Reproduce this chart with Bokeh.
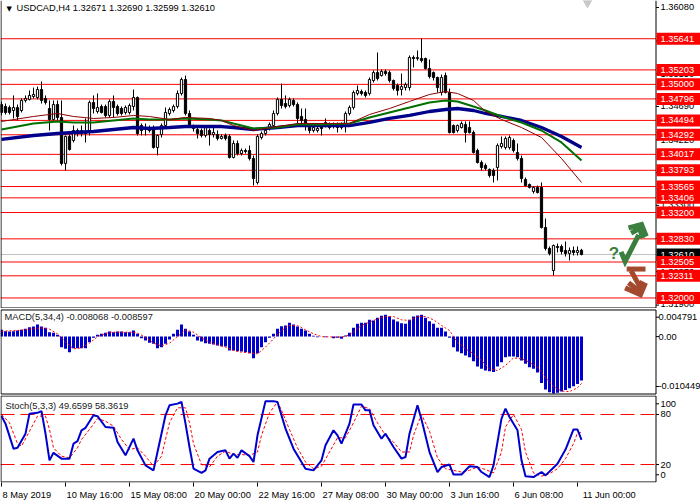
from bokeh.plotting import figure
from bokeh.layouts import column
from bokeh.models import Range1d, FixedTicker, Label
from bokeh.core.properties import value
from bokeh.embed import file_html
from bokeh.resources import INLINE

# ---------------- data ----------------
title_text = "USDCAD,H4  1.32671 1.32690 1.32599 1.32610"
macd_text = "MACD(5,34,4) -0.008068 -0.008597"
stoch_text = "Stoch(5,3,3) 49.6599 58.3619"

opens = [1.34717,1.34689,1.34675,1.34633,1.34675,1.34633,1.34774,1.34788,1.34830,1.34816,
1.34928,1.34802,1.34661,1.34507,1.34717,1.34535,1.33889,1.34268,1.34212,1.34352,
1.34310,1.34338,1.34338,1.34746,1.34619,1.34689,1.34689,1.34563,1.34760,1.34689,
1.34661,1.34605,1.34605,1.34689,1.34816,1.34422,1.34394,1.34394,1.34394,1.34113,
1.34296,1.34422,1.34591,1.34633,1.34689,1.34872,1.35068,1.34591,1.34408,1.34366,
1.34352,1.34282,1.34352,1.34296,1.34296,1.34240,1.34282,1.34268,1.33973,1.34170,
1.34029,1.34071,1.34071,1.33959,1.33622,1.34254,1.34310,1.34380,1.34422,1.34591,
1.34788,1.34731,1.34703,1.34774,1.34717,1.34549,1.34507,1.34422,1.34352,1.34352,
1.34422,1.34422,1.34436,1.34408,1.34436,1.34394,1.34422,1.34591,1.34675,1.34872,
1.34900,1.34886,1.34872,1.35054,1.35166,1.35124,1.35181,1.35166,1.35054,1.34984,
1.34928,1.34955,1.34955,1.35377,1.35363,1.35363,1.35363,1.35223,1.35166,1.35096,
1.34886,1.35124,1.34886,1.34422,1.34352,1.34394,1.34436,1.34394,1.34324,1.34071,
1.33903,1.33861,1.33805,1.33791,1.33833,1.34127,1.34113,1.34113,1.34212,1.34043,
1.33959,1.33664,1.33594,1.33496,1.33552,1.33552,1.32990,1.32695,1.32386,1.32723,
1.32723,1.32667,1.32625,1.32667,1.32639,1.32671]
highs = [1.34760,1.34731,1.34703,1.34844,1.34717,1.34802,1.34844,1.34914,1.34955,1.34969,
1.35040,1.34844,1.34774,1.34774,1.34774,1.34774,1.34282,1.34296,1.34422,1.34380,
1.34422,1.34521,1.34774,1.34844,1.34872,1.34717,1.34717,1.34788,1.34844,1.34717,
1.34689,1.34703,1.34731,1.34928,1.34830,1.34450,1.34450,1.34422,1.34422,1.34296,
1.34450,1.34675,1.34675,1.34717,1.34914,1.35096,1.35124,1.34633,1.34436,1.34394,
1.34380,1.34422,1.34380,1.34394,1.34352,1.34296,1.34310,1.34296,1.34212,1.34212,
1.34099,1.34099,1.34141,1.34001,1.34296,1.34338,1.34380,1.34465,1.34633,1.34816,
1.35011,1.34844,1.34816,1.34802,1.34746,1.34661,1.34661,1.34450,1.34422,1.34408,
1.34450,1.34521,1.34465,1.34465,1.34465,1.34465,1.34619,1.34703,1.34914,1.34984,
1.34928,1.34914,1.35096,1.35195,1.35448,1.35209,1.35209,1.35195,1.35068,1.35011,
1.35152,1.35026,1.35406,1.35406,1.35476,1.35644,1.35377,1.35349,1.35181,1.35110,
1.35138,1.35166,1.34941,1.34436,1.34436,1.34479,1.34479,1.34479,1.34352,1.34099,
1.33931,1.33889,1.33819,1.33819,1.34170,1.34268,1.34268,1.34282,1.34240,1.34170,
1.34001,1.33692,1.33608,1.33566,1.33580,1.33622,1.33116,1.32723,1.32751,1.32765,
1.32751,1.32793,1.32709,1.32723,1.32723,1.32690]
lows = [1.34563,1.34577,1.34577,1.34521,1.34493,1.34605,1.34746,1.34774,1.34802,1.34788,
1.34731,1.34717,1.34352,1.34493,1.34493,1.33861,1.33791,1.34071,1.34184,1.34268,
1.34268,1.34184,1.34282,1.34591,1.34591,1.34591,1.34535,1.34535,1.34535,1.34563,
1.34563,1.34577,1.34577,1.34633,1.34282,1.34282,1.34282,1.34324,1.34099,1.34001,
1.34254,1.34394,1.34563,1.34605,1.34661,1.34844,1.34563,1.34394,1.34338,1.34240,
1.34254,1.34254,1.34141,1.34254,1.34212,1.34226,1.34212,1.33959,1.33959,1.34001,
1.34001,1.34029,1.33931,1.33580,1.33594,1.34226,1.34282,1.34352,1.34394,1.34563,
1.34661,1.34661,1.34675,1.34689,1.34450,1.34422,1.34352,1.34310,1.34324,1.34324,
1.34282,1.34394,1.34366,1.34380,1.34324,1.34366,1.34324,1.34563,1.34647,1.34844,
1.34844,1.34816,1.34844,1.35026,1.35054,1.35110,1.35124,1.35026,1.34914,1.34844,
1.34844,1.34914,1.34914,1.35237,1.35335,1.35307,1.35209,1.35082,1.35054,1.34886,
1.34844,1.34872,1.34310,1.34310,1.34324,1.34380,1.34184,1.34310,1.34029,1.33889,
1.33791,1.33791,1.33692,1.33622,1.33650,1.34099,1.34085,1.34085,1.34043,1.33931,
1.33622,1.33566,1.33538,1.33467,1.33467,1.32976,1.32667,1.32597,1.32316,1.32639,
1.32611,1.32582,1.32526,1.32597,1.32597,1.32599]
closes = [1.34605,1.34605,1.34605,1.34675,1.34549,1.34774,1.34802,1.34844,1.34858,1.34928,
1.34774,1.34746,1.34507,1.34717,1.34535,1.33889,1.34268,1.34085,1.34352,1.34310,
1.34352,1.34310,1.34746,1.34661,1.34675,1.34605,1.34563,1.34760,1.34675,1.34591,
1.34591,1.34675,1.34703,1.34816,1.34310,1.34352,1.34380,1.34352,1.34113,1.34282,
1.34422,1.34605,1.34647,1.34689,1.34872,1.35068,1.34591,1.34422,1.34380,1.34310,
1.34282,1.34394,1.34296,1.34324,1.34240,1.34268,1.34240,1.33973,1.34170,1.34029,
1.34071,1.34057,1.33959,1.33678,1.34268,1.34310,1.34352,1.34436,1.34591,1.34788,
1.34703,1.34689,1.34788,1.34717,1.34521,1.34493,1.34450,1.34352,1.34394,1.34380,
1.34380,1.34465,1.34394,1.34436,1.34394,1.34436,1.34591,1.34675,1.34886,1.34914,
1.34872,1.34844,1.35068,1.35166,1.35082,1.35181,1.35152,1.35054,1.34941,1.34914,
1.34969,1.34998,1.35377,1.35363,1.35377,1.35335,1.35223,1.35110,1.35096,1.34955,
1.35096,1.34886,1.34324,1.34324,1.34422,1.34450,1.34324,1.34324,1.34043,1.33903,
1.33833,1.33819,1.33720,1.33720,1.34141,1.34170,1.34240,1.34254,1.34071,1.33959,
1.33678,1.33580,1.33552,1.33552,1.33481,1.32990,1.32695,1.32625,1.32737,1.32709,
1.32653,1.32625,1.32667,1.32639,1.32667,1.32610]

# moving averages, read at selected bars
ma_bars = [0,8,14,18,23,28,33,37,42,46,52,55,58,63,69,74,80,87,92,97,102,107,111,114,118,121,125,130,135,140,145]
ma_slow = [1.34226,1.34282,1.34310,1.34324,1.34338,1.34366,1.34394,1.34380,1.34394,1.34408,1.34408,1.34408,1.34394,1.34366,1.34394,1.34422,1.34422,1.34422,1.34465,1.34521,1.34563,1.34619,1.34647,1.34661,1.34633,1.34591,1.34549,1.34493,1.34394,1.34268,1.34113]
ma_mid = [1.34366,1.34450,1.34479,1.34465,1.34465,1.34493,1.34521,1.34507,1.34507,1.34521,1.34507,1.34493,1.34450,1.34380,1.34394,1.34436,1.34436,1.34450,1.34535,1.34605,1.34675,1.34746,1.34774,1.34760,1.34689,1.34633,1.34549,1.34465,1.34352,1.34184,1.33931]
ma_fast = [1.34479,1.34549,1.34591,1.34549,1.34521,1.34535,1.34563,1.34549,1.34507,1.34535,1.34521,1.34493,1.34422,1.34352,1.34408,1.34450,1.34450,1.34450,1.34577,1.34661,1.34760,1.34858,1.34900,1.34872,1.34774,1.34619,1.34507,1.34394,1.34254,1.33959,1.33622]

level_prices = [1.35641,1.35203,1.35000,1.34796,1.34494,1.34292,1.34017,1.33793,1.33565,1.33406,1.33200,1.32830,1.32505,1.32311,1.32000]
current_price = 1.32610
price_ticks = [1.36080,1.35610,1.35150,1.34690,1.34220,1.33760,1.33300,1.32840,1.32370,1.31900]

macd_hist = [0.00124,0.00100,0.00094,0.00100,0.00112,0.00124,0.00143,0.00173,0.00185,0.00222,
0.00185,0.00161,0.00081,0.00069,0.00032,-0.00194,-0.00225,-0.00286,-0.00212,-0.00212,
-0.00212,-0.00212,-0.00102,-0.00023,0.00032,0.00051,0.00069,0.00094,0.00081,0.00094,
0.00094,0.00081,0.00081,0.00112,0.00051,-0.00029,-0.00072,-0.00114,-0.00133,-0.00212,
-0.00194,-0.00133,-0.00053,0.00051,0.00124,0.00222,0.00143,0.00094,0.00032,-0.00072,
-0.00090,-0.00121,-0.00133,-0.00145,-0.00163,-0.00176,-0.00182,-0.00255,-0.00255,-0.00267,
-0.00274,-0.00286,-0.00304,-0.00396,-0.00304,-0.00194,-0.00102,-0.00023,0.00051,0.00143,
0.00192,0.00204,0.00253,0.00222,0.00185,0.00143,0.00112,0.00051,0.00014,-0.00010,
0.00002,-0.00010,0.00002,-0.00029,-0.00023,-0.00041,0.00020,0.00069,0.00161,0.00234,
0.00253,0.00253,0.00308,0.00296,0.00345,0.00381,0.00400,0.00369,0.00314,0.00277,
0.00247,0.00234,0.00308,0.00369,0.00387,0.00400,0.00345,0.00283,0.00234,0.00161,
0.00161,0.00094,-0.00023,-0.00194,-0.00274,-0.00304,-0.00347,-0.00378,-0.00451,-0.00549,
-0.00592,-0.00622,-0.00635,-0.00650,-0.00549,-0.00469,-0.00378,-0.00365,-0.00365,-0.00378,
-0.00439,-0.00500,-0.00561,-0.00592,-0.00660,-0.00850,-0.00970,-0.01020,-0.01045,-0.01030,
-0.01010,-0.00980,-0.00950,-0.00910,-0.00870,-0.00807]
macd_sig_bars = [0,4,8,10,12,14,16,18,20,22,24,27,30,33,34,36,38,40,42,44,46,48,50,52,54,56,58,60,62,64,66,68,70,72,74,76,78,80,84,86,88,90,92,94,96,98,100,102,104,106,108,110,112,114,116,118,120,122,124,126,128,130,132,134,136,138,140,142,144,145]
macd_signal = [0.00100,0.00112,0.00143,0.00161,0.00136,0.00051,-0.00102,-0.00225,-0.00206,-0.00121,
0.0,0.00081,0.00081,0.00081,0.00063,-0.00010,-0.00121,-0.00170,-0.00121,0.0,
0.00124,0.00081,-0.00023,-0.00102,-0.00151,-0.00194,-0.00255,-0.00286,-0.00298,-0.00316,
-0.00194,-0.00041,0.00112,0.00204,0.00204,0.00124,0.00051,0.0,-0.0001,0.0,
0.00081,0.00204,0.00265,0.00326,0.00369,0.00369,0.00308,0.00296,0.00369,0.00369,
0.00308,0.00204,0.00112,-0.00102,-0.00225,-0.00316,-0.00439,-0.00592,-0.00622,-0.00531,
-0.00391,-0.00408,-0.00469,-0.00561,-0.0075,-0.0092,-0.0100,-0.0101,-0.0094,-0.008597]
macd_tick_values = [0.00356, 0.0, -0.00916]
macd_tick_labels = ["0.004791", "0.00", "-0.010449"]

stoch_bars = [0,1,3,4,6,7,9,10,11,12,13,15,17,18,19,20,21,23,24,26,28,29,31,33,34,36,38,39,41,42,
44,45,46,47,48,50,51,52,54,56,57,58,59,60,62,63,64,66,68,69,71,73,76,78,80,81,83,84,85,87,
88,90,91,92,93,95,96,98,100,101,102,104,105,107,109,110,112,113,115,117,119,120,122,123,125,126,127,129,130,131,
133,135,136,139,141,143,144,145]
stoch_main = [78,69,39,40,57,81,82,84,57,25,34,27,27,45,48,61,64,79,78,65,64,47,31,51,37,19,13,35,79,91,
93,95,69,41,15,10,13,27,35,37,27,33,28,37,30,23,55,96,96,95,63,39,15,13,25,43,61,55,45,69,
92,92,85,85,67,51,57,41,27,29,57,91,74,35,11,17,20,8,8,18,17,11,5,19,75,87,77,61,25,6,
5,11,7,21,38,62,62,49.66]
stoch_sig_bars = [0,2,4,5,7,9,11,12,13,15,17,19,20,22,24,26,28,30,32,34,36,38,40,42,44,46,47,48,50,52,
54,56,58,60,62,64,65,67,69,70,72,74,76,78,80,82,84,86,88,90,92,94,96,98,100,102,103,105,107,109,
111,113,115,117,119,121,123,125,126,128,130,131,133,135,137,139,141,143,144,145]
stoch_signal = [80,70,45,42,60,78,78,62,40,30,28,40,50,62,75,72,66,50,38,40,30,18,30,70,88,88,70,45,20,17,
30,36,32,32,31,35,55,82,95,85,62,40,23,15,18,35,52,52,70,90,87,70,55,47,35,35,55,80,60,28,
15,13,11,13,17,14,10,35,65,80,62,35,10,6,9,15,27,45,58,58.36]
stoch_levels = [20, 80]
stoch_tick_values = [7.7, 20, 80, 92.8]
stoch_tick_labels = ["0", "20", "80", "100"]

time_ticks = [0,16,32,48,64,80,96,112,128,144]
time_labels = ["8 May 2019","10 May 16:00","15 May 08:00","20 May 00:00","22 May 16:00",
               "27 May 08:00","30 May 00:00","3 Jun 16:00","6 Jun 08:00","11 Jun 00:00"]

# ---------------- layout / style ----------------
FONT = "Liberation Sans"
FS = "9.3px"
W = 700
X0, X1 = -0.25, 174.75       # bar units across the full width
AX = 163.625                 # price-scale separator (bar units)
LEFT = -0.125
xr = Range1d(X0, X1)
bars = list(range(len(opens)))


def make_fig(fh, ylo, yhi, xaxis=False, bottom=0):
    p = figure(frame_width=W, frame_height=fh, x_range=xr, y_range=Range1d(ylo, yhi),
               y_axis_location=None, x_axis_location="below" if xaxis else None,
               toolbar_location=None, output_backend="svg",
               min_border_left=0, min_border_right=0, min_border_top=0, min_border_bottom=bottom)
    p.grid.visible = False
    p.outline_line_color = None
    p.background_fill_color = "white"
    p.border_fill_color = "white"
    return p


def frame_lines(p, top, bot):
    xs0, xs1, ys = [], [], []
    if top is not None:
        xs0.append(LEFT); xs1.append(AX); ys.append(top)
    xs0.append(LEFT); xs1.append(AX); ys.append(bot)
    p.segment(x0=xs0, x1=xs1, y0=ys, y1=ys, line_color="black", line_width=1)
    ytop = top if top is not None else p.y_range.end
    p.segment(x0=[LEFT, AX], x1=[LEFT, AX], y0=[ytop, ytop], y1=[bot, bot], line_color="black", line_width=1)


def scale_labels(p, vals, labels, xoff=4.5, nudge=None):
    n = len(vals)
    p.segment(x0=[AX] * n, x1=[AX + 0.75] * n, y0=vals, y1=vals, line_color="black")
    ys = vals if nudge is None else [v + d for v, d in zip(vals, nudge)]
    p.text(x=[AX] * n, y=ys, text=labels, x_offset=xoff, text_align="left", text_baseline="middle",
           text_font=value(FONT), text_font_size=value(FS), text_color="black")


def tag_boxes(p, vals, color):
    n = len(vals)
    bw = X1 - AX
    p.rect(x=[AX + 0.125 + bw / 2] * n, y=vals, width=bw, height=12, height_units="screen",
           fill_color=color, line_color=None)
    p.text(x=[AX] * n, y=vals, text=[f"{v:.5f}" for v in vals], x_offset=4.5, text_align="left",
           text_baseline="middle", text_font=value(FONT), text_font_size=value(FS), text_color="white")


# ---- main price panel (308 px) ----
p1 = make_fig(308, 1.31852, 1.36178)
p1.segment(x0=[X0] * len(level_prices), x1=[AX] * len(level_prices), y0=level_prices, y1=level_prices,
           line_color="red", line_width=1)
p1.segment(x0=[X0], x1=[AX], y0=[current_price], y1=[current_price], line_color="#c0c0c0", line_width=1)

body_top = [max(o, c) for o, c in zip(opens, closes)]
body_bot = [min(o, c) for o, c in zip(opens, closes)]
body_fill = ["white" if c >= o else "black" for o, c in zip(opens, closes)]
p1.segment(x0=bars, y0=lows, x1=bars, y1=highs, line_color="black", line_width=1)
p1.vbar(x=bars, width=0.55, top=body_top, bottom=body_bot, fill_color=body_fill, line_color="black", line_width=1)

p1.line(ma_bars, ma_slow, line_color="#00008b", line_width=3.3)
p1.line(ma_bars, ma_mid, line_color="#007000", line_width=2)
p1.line(ma_bars, ma_fast, line_color="#8b0000", line_width=1)

# decorative arrows at the right of the price panel
p1.multi_line(xs=[[154.9, 155.9, 159.3], [157.4, 159.5, 160.35], [156.75, 160.0, 161.2]],
              ys=[[1.32647, 1.32512, 1.32887], [1.32911, 1.32976, 1.32840], [1.32984, 1.33032, 1.32863]],
              line_color="#3b7f3f", line_width=5, line_join="miter")
p1.multi_line(xs=[[156.3, 161.0], [157.4, 159.75], [156.75, 159.15, 160.2], [155.9, 159.75, 161.0]],
              ys=[[1.32406, 1.32406], [1.32382, 1.32142], [1.32213, 1.32108, 1.32237], [1.32142, 1.32045, 1.32213]],
              line_color="#a3492e", line_width=5, line_join="miter")
p1.scatter(x=[146.5], y=[1.36150], marker="inverted_triangle", size=9, fill_color="#c8c8c8", line_color="#c8c8c8")

frame_lines(p1, None, 1.31859)
scale_labels(p1, price_ticks, [f"{t:.5f}" for t in price_ticks],
             nudge=[0, 0, 0, 0, 0, 0, 0, 0, 0, 0.00016])
tag_boxes(p1, [current_price], "black")
tag_boxes(p1, level_prices, "red")

p1.add_layout(Label(x=153.1, y=1.32625, text="?", text_color="#3b7f3f", text_font=FONT,
                    text_font_size="17px", text_font_style="bold", text_align="center", text_baseline="middle"))
p1.add_layout(Label(x=X0, y=1.36178, x_offset=6, y_offset=-4, text="\u25bc", text_font="DejaVu Sans",
                    text_font_size="7px", text_baseline="top", text_color="black"))
p1.add_layout(Label(x=X0, y=1.36178, x_offset=16, y_offset=-2, text=title_text, text_font=FONT,
                    text_font_size=FS, text_baseline="top", text_color="black"))

# ---- MACD panel (87 px) ----
p2 = make_fig(87, -0.010815, 0.005158)
p2.vbar(x=bars, width=0.75, top=macd_hist, bottom=0, fill_color="#0000cd", line_color=None)
p2.line(macd_sig_bars, macd_signal, line_color="red", line_width=1, line_dash="2 2")
frame_lines(p2, 0.004883, -0.010540)
scale_labels(p2, macd_tick_values, macd_tick_labels, xoff=2.5)
p2.add_layout(Label(x=X0, y=0.005158, x_offset=4, y_offset=-3, text=macd_text, text_font=FONT,
                    text_font_size=FS, text_baseline="top", text_color="#202020"))

# ---- Stochastic panel (87 px + time axis) ----
p3 = make_fig(87, -1.56, 102.76, xaxis=True, bottom=17)
p3.segment(x0=[X0] * len(stoch_levels), x1=[AX] * len(stoch_levels), y0=stoch_levels, y1=stoch_levels,
           line_color="red", line_width=1, line_dash="14 6")
p3.line(stoch_sig_bars, stoch_signal, line_color="red", line_width=1, line_dash="3 2")
p3.line(stoch_bars, stoch_main, line_color="#0000cd", line_width=2)
frame_lines(p3, 102.16, -0.96)
scale_labels(p3, stoch_tick_values, stoch_tick_labels)
p3.add_layout(Label(x=X0, y=102.76, x_offset=5, y_offset=-5, text=stoch_text, text_font=FONT,
                    text_font_size=FS, text_baseline="top", text_color="#202020"))

# time axis: labels start just right of their tick marks
centers = [t + (6.33 if len(s) <= 11 else 7.29) + (0.65 if s.startswith("11") else 0.0)
           for t, s in zip(time_ticks, time_labels)]
ax = p3.xaxis[0]
ax.ticker = FixedTicker(ticks=centers, minor_ticks=time_ticks)
ax.major_label_overrides = {c: s for c, s in zip(centers, time_labels)}
ax.axis_line_color = None
ax.major_tick_line_color = None
ax.major_tick_out = 0
ax.major_tick_in = 0
ax.minor_tick_line_color = "black"
ax.minor_tick_out = 4
ax.minor_tick_in = 0
ax.major_label_standoff = 3
ax.major_label_text_font = FONT
ax.major_label_text_font_size = FS
ax.major_label_text_color = "black"

layout = column(p1, p2, p3, spacing=0)
open("out.html", "w").write(file_html(layout, INLINE, title="USDCAD H4"))
